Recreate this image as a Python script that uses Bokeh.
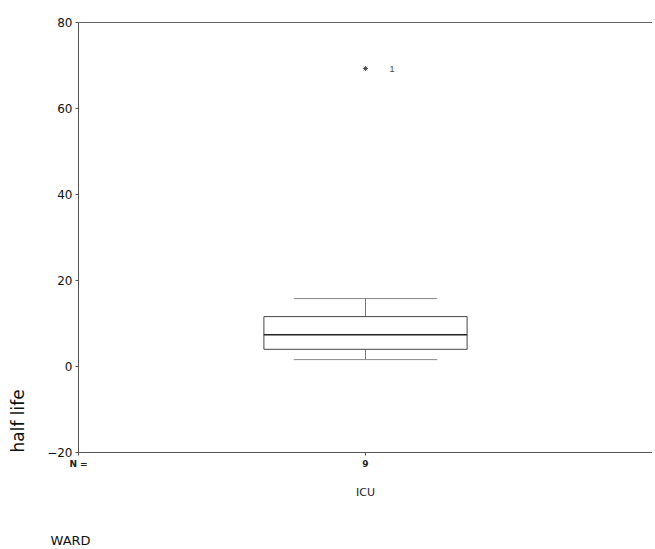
from bokeh.plotting import figure
from bokeh.models import Range1d, FixedTicker, LinearAxis, Title, ColumnDataSource
from bokeh.embed import file_html
from bokeh.resources import INLINE

# ---- data ----
categories = ["ICU"]
n_counts = [9]
q1 = [4.0]
median = [7.4]
q3 = [11.6]
whisker_low = [1.6]
whisker_high = [15.8]
outlier_vals = [69.3]
outlier_ids = ["1"]
y_ticks = [-20, 0, 20, 40, 60, 80]
y_title = "half life"
x_title = "WARD"
n_prefix = "N ="

FONT = "DejaVu Sans"
xs = [i + 0.5 for i in range(len(categories))]

p = figure(width=652, height=549, output_backend="svg", toolbar_location=None,
           x_range=Range1d(0, len(categories)), y_range=Range1d(-20, 80),
           min_border_left=78, min_border_right=0, min_border_top=22, min_border_bottom=97)
p.outline_line_color = None
p.grid.visible = False
p.background_fill_color = "white"
p.border_fill_color = "white"

box_hw = 0.177
cap_hw = 0.125
src = ColumnDataSource(dict(x=xs, q1=q1, med=median, q3=q3, lo=whisker_low, hi=whisker_high,
                            bl=[x - box_hw for x in xs], br=[x + box_hw for x in xs],
                            cl=[x - cap_hw for x in xs], cr=[x + cap_hw for x in xs]))
# whiskers
p.segment(x0="x", y0="q3", x1="x", y1="hi", source=src, line_color="#777777", line_width=1)
p.segment(x0="x", y0="lo", x1="x", y1="q1", source=src, line_color="#777777", line_width=1)
p.segment(x0="cl", y0="hi", x1="cr", y1="hi", source=src, line_color="#888888", line_width=1)
p.segment(x0="cl", y0="lo", x1="cr", y1="lo", source=src, line_color="#888888", line_width=1)
# box
p.quad(left="bl", right="br", bottom="q1", top="q3", source=src,
       fill_color=None, line_color="#444444", line_width=1)
p.segment(x0="bl", y0="med", x1="br", y1="med", source=src, line_color="#222222", line_width=1.5)
# outlier
p.scatter(x=xs, y=outlier_vals, marker="asterisk", size=5, line_color="#555555")
p.text(x=[x + 0.042 for x in xs], y=outlier_vals, text=outlier_ids, text_font_size="9px",
       text_baseline="middle", text_align="left", text_color="#444444")

# y axis
ya = p.yaxis[0]
ya.ticker = FixedTicker(ticks=y_ticks)
ya.minor_tick_line_color = None
ya.major_tick_in = 0
ya.major_tick_out = 3
ya.axis_line_color = "#555555"
ya.major_tick_line_color = "#555555"
ya.major_label_text_font = FONT
ya.major_label_text_font_size = "12px"
ya.major_label_text_color = "#111111"
ya.major_label_standoff = 3
ya.axis_label = "\u00a0"          # blank spacer between ticks and title
ya.axis_label_text_font_size = "10px"
ya.axis_label_standoff = 0

# x axis with N counts (the "N =" caption sits at the left edge tick)
xa = p.xaxis[0]
n_overrides = {0: n_prefix}
n_overrides.update({x: str(n) for x, n in zip(xs, n_counts)})
xa.ticker = FixedTicker(ticks=[0] + xs)
xa.major_label_overrides = n_overrides
xa.minor_tick_line_color = None
xa.major_tick_in = 0
xa.major_tick_out = 3
xa.axis_line_color = "#555555"
xa.major_tick_line_color = "#555555"
xa.major_label_text_font = FONT
xa.major_label_text_font_size = "9px"
xa.major_label_text_font_style = "bold"
xa.major_label_text_color = "#222222"
xa.major_label_standoff = 3

# category axis
ca = LinearAxis(ticker=FixedTicker(ticks=xs),
                major_label_overrides={x: c for x, c in zip(xs, categories)})
ca.axis_line_color = None
ca.major_tick_line_color = None
ca.minor_tick_line_color = None
ca.major_label_text_font = FONT
ca.major_label_text_font_size = "11px"
ca.major_label_text_color = "#222222"
ca.major_label_standoff = 8
ca.axis_label = "\u00a0"          # blank spacer above the WARD title
ca.axis_label_text_font_size = "11px"
ca.axis_label_standoff = 13
p.add_layout(ca, "below")

# top line
ta = LinearAxis(ticker=FixedTicker(ticks=[]))
ta.axis_line_color = "#666666"
ta.major_label_text_font_size = "0px"
ta.major_tick_line_color = None
ta.minor_tick_line_color = None
p.add_layout(ta, "above")

# titles outside the frame
p.add_layout(Title(text=y_title, align="left", text_font=FONT, text_font_size="17px",
                   text_font_style="normal", text_color="#111111", standoff=6), "left")
p.add_layout(Title(text=x_title, align="left", offset=-28, text_font=FONT, text_font_size="13px",
                   text_font_style="normal", text_color="#111111", standoff=3), "below")

open("out.html", "w").write(file_html(p, INLINE))
